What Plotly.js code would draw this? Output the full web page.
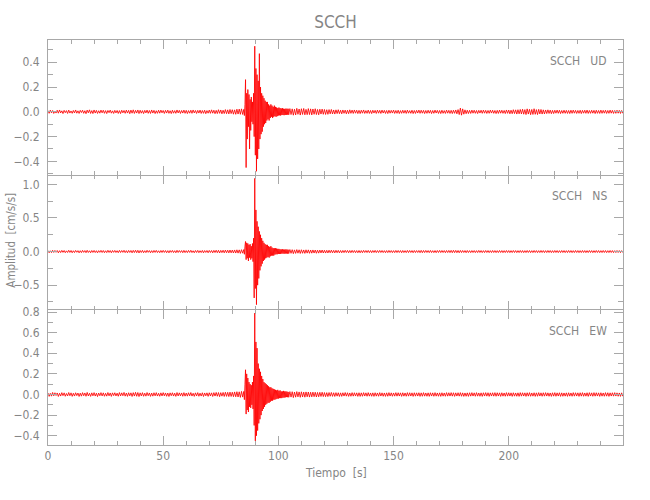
<!DOCTYPE html>
<html><head><meta charset="utf-8">
<script src="https://cdn.plot.ly/plotly-3.0.1.min.js"></script>
<style>html,body{margin:0;padding:0;background:#fff}#chart{width:650px;height:500px}</style>
</head><body><div id="chart"></div>
<script>
// ---- data ----
const chartTitle = "SCCH";
const station = "SCCH";
const components = ["UD", "NS", "EW"];
const xTitle = "Tiempo  [s]";
const yTitle = "Amplitud  [cm/s/s]";

// sampling segments: [start time s, step s, count]
const segA = [0, 0.5, 170];
const segB = [85, 0.25, 80];
const segC = [105, 0.5, 290];

const udA = [.010,-.012,.014,-.008,.011,-.013,.006,-.010,.013,-.011,.015,-.009,.008,-.014,.012,-.007,.010,-.013,.014,-.010,
.007,-.012,.011,-.009,.015,-.011,.008,-.013,.012,-.006,.013,-.012,.009,-.015,.014,-.008,.016,-.013,.010,-.014,
.015,-.010,.012,-.013,.009,-.011,.014,-.008,.013,-.012,.010,-.014,.011,-.007,.014,-.011,.008,-.013,.012,-.009,
.011,-.013,.010,-.014,.013,-.008,.011,-.012,.014,-.010,.012,-.015,.014,-.011,.016,-.013,.012,-.010,.015,-.014,
.013,-.011,.010,-.014,.012,-.009,.014,-.012,.011,-.013,.015,-.010,.012,-.014,.009,-.012,.013,-.011,.014,-.008,
.011,-.013,.012,-.010,.014,-.012,.009,-.014,.013,-.011,.010,-.012,.015,-.009,.012,-.013,.011,-.010,.014,-.012,
.012,-.014,.010,-.011,.013,-.012,.015,-.009,.011,-.013,.012,-.010,.014,-.013,.011,-.012,.013,-.015,.010,-.011,
.014,-.012,.016,-.011,.013,-.015,.012,-.014,.017,-.012,.015,-.016,.013,-.014,.018,-.015,.016,-.017,.019,-.014,
.017,-.019,.016,-.020,.021,-.018,.022,-.020,.024,-.021];
const udB = [.02,-.03,.06,.26,-.45,.15,-.22,.18,-.12,.14,
-.30,.10,-.15,.12,-.08,.08,-.10,.15,-.20,.53,
-.35,.35,-.48,.30,-.38,.25,-.30,.47,-.22,.20,
-.18,.15,-.16,.13,-.12,.11,-.10,.09,-.09,.08,
-.07,.08,-.06,.06,-.07,.05,-.05,.06,-.04,.05,
-.05,.04,-.04,.05,-.035,.04,-.04,.035,-.035,.03,
-.03,.035,-.028,.03,-.03,.027,-.025,.03,-.026,.025,
-.027,.024,-.025,.026,-.024,.025,-.023,.025,-.024,.023];
const udC = [.026,-.022,.024,-.027,.021,-.025,.028,-.020,.023,-.026,.025,-.021,.027,-.024,.020,-.023,.026,-.022,.024,-.025,
.023,-.020,.025,-.022,.019,-.024,.021,-.018,.022,-.020,.019,-.021,.017,-.020,.018,-.016,.019,-.017,.015,-.018,
.016,-.014,.017,-.015,.013,-.016,.015,-.012,.014,-.016,.013,-.015,.016,-.012,.014,-.013,.015,-.011,.013,-.014,
.012,-.014,.013,-.011,.015,-.013,.010,-.012,.014,-.013,.011,-.014,.013,-.010,.012,-.013,.014,-.011,.012,-.013,
.014,-.010,.012,-.013,.011,-.014,.013,-.011,.012,-.010,.014,-.013,.011,-.012,.013,-.014,.010,-.012,.013,-.011,
.012,-.013,.014,-.011,.010,-.012,.013,-.014,.011,-.013,.012,-.010,.014,-.012,.013,-.011,.012,-.014,.011,-.012,
.013,-.011,.012,-.014,.011,-.012,.014,-.010,.012,-.013,.011,-.014,.013,-.012,.010,-.013,.014,-.011,.012,-.013,
.012,-.014,.013,-.012,.015,-.016,.018,-.022,.030,-.027,.024,-.019,.016,-.015,.013,-.014,.012,-.013,.014,-.011,
.013,-.012,.011,-.014,.012,-.010,.013,-.012,.014,-.011,.012,-.013,.011,-.012,.014,-.010,.013,-.012,.011,-.014,
.012,-.013,.014,-.011,.013,-.012,.011,-.014,.015,-.012,.014,-.016,.013,-.015,.017,-.014,.016,-.018,.017,-.016,
.019,-.017,.021,-.019,.018,-.022,.024,-.018,.020,-.023,.019,-.021,.025,-.020,.018,-.022,.020,-.017,.019,-.018,
.016,-.017,.015,-.014,.016,-.013,.014,-.015,.012,-.014,.013,-.011,.014,-.012,.013,-.014,.011,-.012,.013,-.012,
.012,-.013,.011,-.014,.013,-.012,.014,-.011,.012,-.013,.011,-.012,.013,-.014,.012,-.011,.013,-.012,.014,-.013,
.011,-.012,.013,-.011,.012,-.014,.013,-.012,.011,-.013,.014,-.012,.012,-.011,.013,-.013,.011,-.012,.014,-.011,
.012,-.013,.011,-.012,.013,-.011,.012,-.013,.011,-.012];

const nsA = [.015,-.018,.012,-.016,.019,-.013,.017,-.011,.016,-.019,.013,-.015,.018,-.012,.016,-.017,.011,-.014,.019,-.013,
.016,-.018,.012,-.015,.017,-.011,.014,-.019,.013,-.016,.018,-.012,.015,-.017,.019,-.014,.012,-.018,.016,-.013,
.017,-.015,.013,-.019,.014,-.012,.018,-.014,.016,-.017,.012,-.016,.019,-.013,.015,-.018,.016,-.012,.017,-.014,
.013,-.017,.018,-.014,.016,-.012,.019,-.016,.014,-.018,.017,-.013,.016,-.019,.018,-.015,.020,-.017,.019,-.021,
.016,-.014,.018,-.017,.013,-.016,.019,-.012,.015,-.018,.014,-.016,.017,-.013,.018,-.015,.012,-.017,.016,-.014,
.018,-.013,.015,-.017,.014,-.019,.016,-.012,.017,-.015,.013,-.018,.019,-.014,.016,-.013,.015,-.017,.018,-.016,
.014,-.016,.017,-.013,.019,-.015,.012,-.018,.016,-.014,.018,-.017,.013,-.015,.017,-.019,.015,-.013,.016,-.018,
.017,-.014,.016,-.019,.018,-.015,.020,-.017,.019,-.021,.018,-.016,.020,-.019,.022,-.018,.021,-.020,.023,-.019,
.022,-.021,.024,-.022,.026,-.023,.025,-.027,.028,-.024];
const nsB = [.03,-.04,.08,.15,-.12,.13,-.10,.12,-.14,.10,
-.09,.11,-.12,.08,-.10,.12,-.15,.20,-.69,1.09,
-.55,.62,-.79,.45,-.50,.37,-.40,.30,-.28,.25,
-.22,.20,-.18,.16,-.14,.13,-.12,.11,-.10,.10,
-.09,.10,-.08,.08,-.09,.07,-.07,.08,-.06,.06,
-.06,.05,-.06,.05,-.045,.05,-.04,.045,-.04,.04,
-.035,.04,-.035,.033,-.035,.032,-.03,.035,-.03,.03,
-.032,.03,-.03,.032,-.029,.03,-.031,.028,-.03,.029];
const nsC = [.030,-.026,.028,-.031,.025,-.027,.029,-.024,.026,-.028,.027,-.025,.024,-.027,.026,-.023,.025,-.026,.023,-.024,
.024,-.022,.023,-.025,.021,-.023,.022,-.020,.023,-.021,.020,-.022,.019,-.021,.020,-.018,.021,-.019,.018,-.020,
.019,-.017,.018,-.019,.016,-.018,.017,-.016,.019,-.015,.017,-.018,.016,-.017,.018,-.015,.016,-.017,.015,-.018,
.016,-.018,.015,-.017,.018,-.014,.016,-.015,.017,-.016,.015,-.017,.016,-.014,.018,-.016,.015,-.015,.017,-.014,
.016,-.015,.014,-.017,.015,-.016,.017,-.014,.015,-.016,.014,-.016,.017,-.015,.016,-.014,.015,-.017,.016,-.015,
.014,-.016,.017,-.015,.016,-.014,.015,-.017,.016,-.015,.015,-.014,.016,-.017,.018,-.017,.016,-.015,.017,-.014,
.015,-.016,.017,-.015,.014,-.016,.015,-.017,.016,-.014,.017,-.015,.016,-.014,.015,-.017,.016,-.015,.017,-.016,
.018,-.017,.019,-.016,.018,-.017,.016,-.018,.017,-.015,.016,-.014,.015,-.017,.016,-.015,.014,-.016,.015,-.014,
.015,-.016,.014,-.015,.017,-.014,.015,-.016,.014,-.015,.016,-.014,.015,-.016,.014,-.015,.016,-.014,.015,-.016,
.014,-.015,.016,-.014,.015,-.016,.014,-.015,.016,-.014,.015,-.016,.014,-.015,.016,-.014,.015,-.016,.014,-.015,
.016,-.014,.015,-.016,.014,-.015,.016,-.014,.015,-.016,.014,-.015,.016,-.014,.015,-.016,.014,-.015,.016,-.014,
.015,-.016,.014,-.015,.016,-.014,.015,-.016,.014,-.015,.016,-.014,.015,-.016,.014,-.015,.016,-.014,.015,-.016,
.014,-.015,.016,-.014,.015,-.016,.014,-.015,.016,-.014,.015,-.016,.014,-.015,.016,-.014,.015,-.016,.014,-.015,
.016,-.014,.015,-.016,.014,-.015,.016,-.014,.015,-.016,.014,-.015,.016,-.014,.015,-.016,.014,-.015,.016,-.014,
.015,-.016,.014,-.015,.016,-.014,.015,-.016,.014,-.015];

const ewA = [.014,-.018,.011,-.016,.020,-.013,.017,-.010,.015,-.019,.012,-.015,.018,-.011,.016,-.017,.010,-.014,.019,-.012,
.016,-.018,.012,-.015,.017,-.011,.014,-.019,.013,-.016,.018,-.012,.015,-.017,.020,-.014,.012,-.018,.016,-.013,
.018,-.015,.013,-.020,.014,-.012,.018,-.014,.016,-.017,.012,-.016,.019,-.013,.015,-.018,.016,-.011,.017,-.014,
.013,-.017,.019,-.014,.016,-.012,.020,-.016,.014,-.018,.017,-.013,.016,-.019,.018,-.015,.021,-.017,.019,-.020,
.016,-.014,.018,-.017,.013,-.016,.019,-.012,.015,-.018,.014,-.016,.017,-.013,.018,-.015,.012,-.017,.016,-.014,
.018,-.013,.015,-.017,.014,-.019,.016,-.012,.017,-.015,.013,-.018,.019,-.014,.016,-.013,.015,-.017,.018,-.016,
.014,-.016,.017,-.013,.019,-.015,.012,-.018,.016,-.014,.018,-.017,.013,-.015,.017,-.019,.015,-.013,.016,-.018,
.017,-.014,.016,-.019,.018,-.015,.020,-.017,.019,-.021,.018,-.016,.020,-.019,.022,-.018,.021,-.020,.023,-.019,
.022,-.021,.025,-.022,.027,-.024,.026,-.028,.030,-.025];
const ewB = [.03,-.05,.10,.24,-.19,.20,-.15,.16,-.17,.12,
-.12,.10,-.13,.09,-.10,.12,-.14,.18,-.30,.79,
-.45,.51,-.40,.45,-.35,.30,-.28,.25,-.24,.22,
-.20,.18,-.16,.15,-.14,.12,-.12,.11,-.10,.10,
-.09,.09,-.08,.08,-.08,.07,-.07,.07,-.06,.06,
-.06,.055,-.05,.05,-.05,.045,-.045,.04,-.04,.045,
-.04,.035,-.035,.04,-.035,.03,-.035,.03,-.03,.035,
-.03,.03,-.028,.03,-.025,.028,-.026,.025,-.027,.025];
const ewC = [.028,-.025,.027,-.030,.024,-.026,.028,-.023,.025,-.027,.026,-.024,.023,-.026,.025,-.022,.024,-.025,.022,-.023,
.023,-.021,.022,-.024,.020,-.022,.021,-.019,.022,-.020,.019,-.021,.018,-.020,.019,-.017,.020,-.018,.017,-.019,
.018,-.016,.017,-.019,.016,-.018,.017,-.015,.019,-.016,.017,-.018,.015,-.017,.018,-.016,.017,-.015,.016,-.018,
.017,-.018,.016,-.017,.018,-.015,.016,-.017,.018,-.016,.015,-.017,.016,-.018,.017,-.016,.015,-.017,.018,-.015,
.016,-.017,.015,-.018,.016,-.017,.018,-.015,.016,-.017,.015,-.016,.018,-.016,.017,-.015,.016,-.018,.017,-.016,
.015,-.017,.018,-.016,.017,-.015,.016,-.018,.017,-.016,.016,-.015,.017,-.018,.016,-.017,.018,-.016,.015,-.017,
.016,-.018,.017,-.015,.016,-.017,.018,-.016,.015,-.017,.016,-.018,.017,-.016,.015,-.017,.018,-.016,.017,-.015,
.018,-.016,.017,-.018,.016,-.015,.017,-.016,.018,-.017,.016,-.018,.015,-.017,.016,-.018,.017,-.016,.018,-.015,
.016,-.017,.018,-.016,.015,-.017,.016,-.018,.017,-.015,.018,-.016,.017,-.018,.016,-.015,.017,-.016,.018,-.017,
.017,-.015,.016,-.018,.017,-.016,.015,-.017,.018,-.016,.017,-.015,.016,-.018,.017,-.016,.015,-.017,.016,-.018,
.018,-.016,.017,-.015,.016,-.018,.017,-.016,.018,-.017,.015,-.016,.017,-.018,.016,-.017,.018,-.015,.016,-.017,
.017,-.016,.018,-.015,.016,-.017,.015,-.018,.017,-.016,.018,-.017,.016,-.015,.017,-.018,.016,-.017,.015,-.016,
.016,-.018,.017,-.016,.015,-.017,.018,-.016,.017,-.015,.016,-.018,.017,-.016,.018,-.017,.015,-.016,.017,-.018,
.018,-.015,.016,-.017,.018,-.016,.017,-.015,.016,-.018,.017,-.016,.015,-.017,.018,-.016,.017,-.018,.016,-.015,
.017,-.016,.018,-.015,.016,-.017,.015,-.018,.016,-.017];

const yTickSets = {
  UD: [-0.4, -0.2, 0.0, 0.2, 0.4],
  NS: [-0.5, 0.0, 0.5, 1.0],
  EW: [-0.4, -0.2, 0.0, 0.2, 0.4, 0.6, 0.8]
};

// ---- build ----
function segTimes(s) { const out = []; for (let i = 0; i < s[2]; i++) out.push(+(s[0] + i * s[1]).toFixed(3)); return out; }
const t = [].concat(segTimes(segA), segTimes(segB), segTimes(segC));
const series = {
  UD: [].concat(udA, udB, udC),
  NS: [].concat(nsA, nsB, nsC),
  EW: [].concat(ewA, ewB, ewC)
};

const FONT = '"Liberation Sans Narrow", "DejaVu Sans Condensed", sans-serif';
const TXT = '#858585';
const AX = '#a8a8a8';

const panel = { UD: { xa: 'x3', ya: 'y3', dom: [2/3, 1], range: [-0.51, 0.58], minor: 0.1 },
                NS: { xa: 'x2', ya: 'y2', dom: [1/3, 2/3], range: [-0.87, 1.14], minor: 0.25 },
                EW: { xa: 'x', ya: 'y', dom: [0, 1/3], range: [-0.49, 0.82], minor: 0.1 } };

const traces = components.map(c => ({
  type: 'scatter', mode: 'lines', x: t, y: series[c],
  xaxis: panel[c].xa, yaxis: panel[c].ya,
  line: { color: '#ff0000', width: 0.85 }, hoverinfo: 'skip', showlegend: false
}));

function xAxis(anchor, labels, line) {
  return { domain: [0, 1], range: [0, 249.6], anchor: anchor,
    showline: line, linecolor: AX, linewidth: 1, mirror: 'allticks',
    ticks: 'inside', ticklen: 9, tickcolor: AX, tickwidth: 1, tick0: 0, dtick: 50,
    minor: { dtick: 10, ticks: 'inside', ticklen: 4, tickcolor: AX },
    showticklabels: labels, showgrid: false, zeroline: false,
    tickfont: { family: FONT, size: 12, color: TXT } };
}
function yAxis(c, anchor) {
  const p = panel[c];
  return { domain: p.dom, range: p.range, anchor: anchor,
    showline: true, linecolor: AX, linewidth: 1, mirror: 'allticks',
    ticks: 'inside', ticklen: 9, tickcolor: AX, tickwidth: 1,
    tickmode: 'array', tickvals: yTickSets[c], ticktext: yTickSets[c].map(v => (v < 0 ? '\u2212' : '') + Math.abs(v).toFixed(1)),
    minor: { dtick: p.minor, tick0: 0, ticks: 'inside', ticklen: 5, tickcolor: AX },
    showgrid: false, zeroline: false, ticklabelstandoff: 5,
    tickfont: { family: FONT, size: 12, color: TXT } };
}

const annFont = { family: FONT, size: 12, color: TXT };
const annotations = components.map(c => ({
  xref: panel[c].xa + ' domain', yref: panel[c].ya + ' domain', x: 0.976, y: 0.845,
  xanchor: 'right', yanchor: 'middle', showarrow: false,
  text: station + '\u00a0\u00a0\u00a0' + c, font: annFont
}));
annotations.push({ xref: 'paper', yref: 'paper', x: -0.064, y: 0.505, textangle: -90,
  xanchor: 'center', yanchor: 'middle', showarrow: false, text: yTitle.replace(/  /g, '\u00a0\u00a0'), font: { family: FONT, size: 11.5, color: TXT } });
annotations.push({ xref: 'paper', yref: 'paper', x: 0.5, y: -0.069,
  xanchor: 'center', yanchor: 'middle', showarrow: false, text: xTitle.replace(/  /g, '\u00a0\u00a0'), font: annFont });

const layout = {
  width: 650, height: 500,
  margin: { l: 48, r: 27, t: 40, b: 55, pad: 0 },
  paper_bgcolor: '#ffffff', plot_bgcolor: '#ffffff',
  title: { text: chartTitle, font: { family: FONT, size: 17, color: TXT },
    x: 0.5, xref: 'paper', y: 0.955, yref: 'container', yanchor: 'middle' },
  xaxis: xAxis('y', true, true),
  xaxis2: Object.assign(xAxis('y2', false, false), { matches: 'x' }),
  xaxis3: Object.assign(xAxis('y3', false, true), { matches: 'x' }),
  yaxis: yAxis('EW', 'x'),
  yaxis2: yAxis('NS', 'x2'),
  yaxis3: yAxis('UD', 'x3'),
  annotations: annotations,
  showlegend: false
};

Plotly.newPlot('chart', traces, layout, { staticPlot: true, displayModeBar: false });
</script></body></html>
